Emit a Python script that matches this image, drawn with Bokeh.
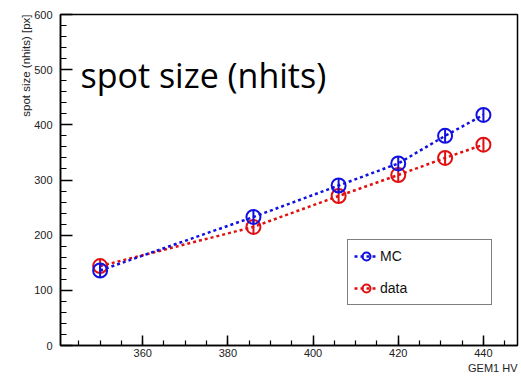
from bokeh.plotting import figure
from bokeh.models import (Label, Legend, LegendItem, SingleIntervalTicker, Range1d, Title)
from bokeh.embed import file_html
from bokeh.resources import INLINE

# data
hv = [350, 386, 406, 420, 431, 440]
mc = [136, 233, 290, 330, 380, 418]
data = [144, 215, 271, 309, 340, 364]
mc_err = [12, 12, 12, 12, 12, 12]
data_err = [12, 12, 12, 12, 12, 12]
title_text = "spot size (nhits)"
xlabel = "GEM1 HV"
ylabel = "spot size (nhits) [px]"

W, H = 522, 377
p = figure(width=W, height=H, output_backend="svg", toolbar_location=None,
           x_range=Range1d(340.7, 448), y_range=Range1d(0, 600),
           min_border_left=60, min_border_right=5, min_border_top=14, min_border_bottom=32)
p.xgrid.visible = False
p.ygrid.visible = False
p.outline_line_color = "black"
p.outline_line_width = 1.5
p.background_fill_color = "white"
p.border_fill_color = "white"

for ax in (p.xaxis[0], p.yaxis[0]):
    ax.major_tick_out = 0
    ax.minor_tick_out = 0
    ax.axis_line_color = "black"
    ax.axis_line_width = 1.5
    ax.major_tick_line_width = 1.5
    ax.minor_tick_line_width = 1.2
    ax.major_label_text_font = "Liberation Sans"
    ax.major_label_text_font_size = "11px"
    ax.major_label_text_color = "#222222"

p.xaxis.ticker = SingleIntervalTicker(interval=20, num_minor_ticks=4)
p.yaxis.ticker = SingleIntervalTicker(interval=100, num_minor_ticks=5)
p.xaxis.major_tick_in = 10
p.xaxis.minor_tick_in = 5
p.yaxis.major_tick_in = 12
p.yaxis.minor_tick_in = 6
p.xaxis.major_label_standoff = 3
p.yaxis.major_label_standoff = 8

blue = "#1010e0"
red = "#e01010"

def series(y, err, color):
    ln = p.line(hv, y, line_color=color, line_width=2.5, line_dash="3 3")
    p.segment(hv, [a - e for a, e in zip(y, err)], hv, [a + e for a, e in zip(y, err)],
              line_color=color, line_width=2)
    sc = p.scatter(hv, y, marker="circle", size=14, fill_color="white", fill_alpha=0,
                   line_color=color, line_width=2)
    return ln, sc

d_ln, d_sc = series(data, data_err, red)
m_ln, m_sc = series(mc, mc_err, blue)

legend = Legend(items=[LegendItem(label="MC", renderers=[m_ln, m_sc]),
                       LegendItem(label="data", renderers=[d_ln, d_sc])],
                location=(287, 40), border_line_color="black", border_line_width=1.5,
                padding=6, spacing=12, glyph_width=24, glyph_height=20,
                label_height=20, label_width=105, label_standoff=2,
                label_text_font="Liberation Sans", label_text_font_size="14px",
                label_text_color="#111111",
                background_fill_alpha=1, margin=0)
p.add_layout(legend, "center")

# Label screen units are relative to the frame's bottom-left corner
p.add_layout(Label(x=20, y=271, x_units="screen", y_units="screen", text=title_text,
                   text_font="Open Sans", text_font_size="34px", text_color="black",
                   text_baseline="alphabetic"))

p.add_layout(Title(text=xlabel, align="right", text_font="Liberation Sans",
                   text_font_size="11px", text_font_style="normal", text_color="#222222",
                   standoff=0, offset=0), "below")
p.add_layout(Title(text=ylabel, align="right", text_font="Liberation Sans",
                   text_font_size="11.5px", text_font_style="normal", text_color="#222222",
                   standoff=0, offset=0), "left")

open("out.html", "w").write(file_html(p, INLINE))
